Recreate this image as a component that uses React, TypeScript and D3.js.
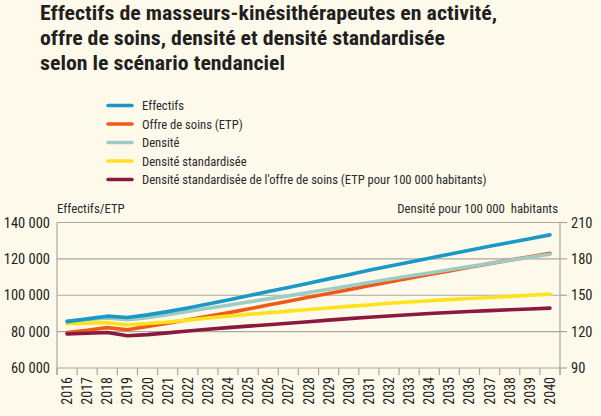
import React from "react";
import * as d3 from "d3";

const years = [
  "2016","2017","2018","2019","2020","2021","2022","2023","2024","2025","2026","2027","2028",
  "2029","2030","2031","2032","2033","2034","2035","2036","2037","2038","2039","2040",
];
// Left axis (Effectifs / ETP)
const effectifs = [
  85500, 87000, 88500, 87800, 89200, 91000, 93000, 95200, 97400, 99700, 102000, 104300, 106600,
  109000, 111300, 113700, 116000, 118200, 120400, 122600, 124800, 126900, 129000, 131100, 133200,
];
const offreSoins = [
  79500, 80800, 82200, 81000, 82800, 84600, 86500, 88400, 90300, 92400, 94600, 96700, 98900,
  101000, 103100, 105200, 107300, 109400, 111400, 113400, 115400, 117400, 119300, 121200, 123100,
];
// Right axis (densité pour 100 000 habitants)
const densite = [
  129, 130, 131.2, 129.8, 131.5, 134, 136.7, 139.3, 141.8, 144.4, 147, 149.5, 152.2,
  154.9, 157.7, 160.5, 163.2, 165.8, 168.4, 171, 173.6, 176.2, 178.8, 181.3, 183.8,
];
const densiteStd = [
  126.5, 127, 127.4, 125.5, 126.7, 128, 129.5, 131.2, 132.8, 134.3, 135.6, 136.9, 138.2,
  139.5, 140.8, 142, 143.4, 144.4, 145.4, 146.4, 147.3, 148.2, 149.1, 150, 150.9,
];
const densiteStdOffre = [
  118, 118.6, 119.3, 116.6, 117.5, 119, 120.5, 122, 123.3, 124.5, 125.7, 126.9, 128.2,
  129.5, 130.7, 131.8, 132.9, 133.9, 134.9, 135.8, 136.6, 137.3, 138, 138.7, 139.4,
];

const leftTicks = [60000, 80000, 100000, 120000, 140000];
const rightTicks = [90, 120, 150, 180, 210];

const titleLines = [
  "Effectifs de masseurs-kinésithérapeutes en activité,",
  "offre de soins, densité et densité standardisée",
  "selon le scénario tendanciel",
];
const titleWidths = [457, 405, 245];

const seriesNames = [
  "Effectifs",
  "Offre de soins (ETP)",
  "Densité",
  "Densité standardisée",
  "Densité standardisée de l'offre de soins (ETP pour 100 000 habitants)",
];

const COLORS = {
  effectifs: "#1a98c6",
  offre: "#ef5a1b",
  densite: "#9ecbc4",
  std: "#ffe21c",
  stdOffre: "#8b1840",
};
const legendColors = [COLORS.effectifs, COLORS.offre, COLORS.densite, COLORS.std, COLORS.stdOffre];

const W = 601;
const H = 416;
const FONT = "'Liberation Sans Narrow', 'Arial Narrow', 'Roboto Condensed', 'Liberation Sans', sans-serif";

export default function App() {
  const x = d3.scaleBand<string>().domain(years).range([57, 560]);
  const yL = d3.scaleLinear().domain([60000, 140000]).range([368, 222.5]);
  const yR = d3.scaleLinear().domain([90, 210]).range([368, 222.5]);
  const cx = (i: number) => (x(years[i]) as number) + x.bandwidth() / 2;
  const fmt = (v: number) => d3.format(",")(v).replace(/,/g, " ");

  const lineL = d3.line<number>().x((_, i) => cx(i)).y((d) => yL(d));
  const lineR = d3.line<number>().x((_, i) => cx(i)).y((d) => yR(d));

  const paths = [
    { d: lineL(offreSoins), c: COLORS.offre },
    { d: lineR(densiteStdOffre), c: COLORS.stdOffre },
    { d: lineR(densiteStd), c: COLORS.std },
    { d: lineR(densite), c: COLORS.densite },
    { d: lineL(effectifs), c: COLORS.effectifs },
  ];

  const boundaries = years.map((y) => x(y) as number).concat([560]);

  return (
    <svg width={W} height={H} style={{ position: "absolute", left: 0, top: 0 }} fontFamily={FONT}>
      <rect width={W} height={H} fill="#fdfaec" />
      {titleLines.map((t, i) => (
        <text
          key={i}
          x={40}
          y={20 + i * 25}
          fontSize={19.5}
          fontWeight="bold"
          fill="#231f20"
          textLength={titleWidths[i]}
          lengthAdjust="spacingAndGlyphs"
        >
          {t}
        </text>
      ))}
      {seriesNames.map((s, i) => (
        <g key={s}>
          <line x1={108} x2={132} y1={105.5 + i * 18.5} y2={105.5 + i * 18.5} stroke={legendColors[i]} strokeWidth={3.5} strokeLinecap="round" />
          <text x={142} y={110 + i * 18.5} fontSize={12.6} fill="#2b2b2b">{s}</text>
        </g>
      ))}
      <text x={57} y={213} fontSize={12.8} fill="#2b2b2b">Effectifs/ETP</text>
      <text x={558} y={213} fontSize={12.8} fill="#2b2b2b" textAnchor="end" style={{ whiteSpace: "pre" }}>
        {"Densité pour 100 000  habitants"}
      </text>
      {leftTicks.map((t) => (
        <g key={t}>
          {t > 60000 && <line x1={57} x2={560} y1={yL(t)} y2={yL(t)} stroke="#a9a79f" strokeWidth={1.2} />}
          <text x={50} y={yL(t) + 5} fontSize={14.5} textAnchor="end" fill="#231f20">{fmt(t)}</text>
        </g>
      ))}
      {rightTicks.map((t) => (
        <g key={t}>
          <line x1={560} x2={567} y1={yR(t)} y2={yR(t)} stroke="#a9a79f" strokeWidth={1.2} />
          <text x={571} y={yR(t) + 5} fontSize={14.5} fill="#231f20">{t}</text>
        </g>
      ))}
      <line x1={57} x2={57} y1={222.5} y2={375} stroke="#a9a79f" strokeWidth={1.2} />
      <line x1={560} x2={560} y1={222.5} y2={375} stroke="#a9a79f" strokeWidth={1.2} />
      <line x1={57} x2={560} y1={368} y2={368} stroke="#a9a79f" strokeWidth={1.2} />
      {boundaries.map((b, i) => (
        <line key={i} x1={b} x2={b} y1={368} y2={375} stroke="#a9a79f" strokeWidth={1.2} />
      ))}
      {years.map((y, i) => (
        <text key={y} transform={`translate(${cx(i) + 5},${377}) rotate(-90)`} fontSize={14} textAnchor="end" fill="#231f20">
          {y}
        </text>
      ))}
      {paths.map((p, i) => (
        <path key={i} d={p.d as string} fill="none" stroke={p.c} strokeWidth={3.6} strokeLinejoin="round" strokeLinecap="round" />
      ))}
    </svg>
  );
}
